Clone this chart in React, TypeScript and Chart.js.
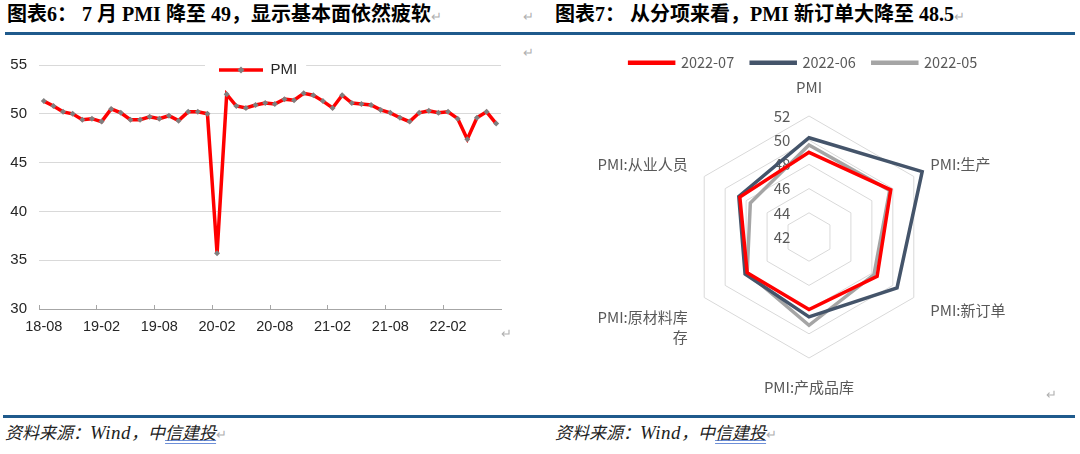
import React, { useEffect, useRef } from "react";
import { Chart, registerables } from "chart.js";

Chart.register(...registerables);

// ---------- data ----------
const months = [
  "18-08", "18-09", "18-10", "18-11", "18-12",
  "19-01", "19-02", "19-03", "19-04", "19-05", "19-06", "19-07", "19-08", "19-09", "19-10", "19-11", "19-12",
  "20-01", "20-02", "20-03", "20-04", "20-05", "20-06", "20-07", "20-08", "20-09", "20-10", "20-11", "20-12",
  "21-01", "21-02", "21-03", "21-04", "21-05", "21-06", "21-07", "21-08", "21-09", "21-10", "21-11", "21-12",
  "22-01", "22-02", "22-03", "22-04", "22-05", "22-06", "22-07",
];
const pmiValues = [
  51.3, 50.8, 50.2, 50.0, 49.4,
  49.5, 49.2, 50.5, 50.1, 49.4, 49.4, 49.7, 49.5, 49.8, 49.3, 50.2, 50.2,
  50.0, 35.7, 52.0, 50.8, 50.6, 50.9, 51.1, 51.0, 51.5, 51.4, 52.1, 51.9,
  51.3, 50.6, 51.9, 51.1, 51.0, 50.9, 50.4, 50.1, 49.6, 49.2, 50.1, 50.3,
  50.1, 50.2, 49.5, 47.4, 49.6, 50.2, 49.0,
];
const xTickLabels = ["18-08", "19-02", "19-08", "20-02", "20-08", "21-02", "21-08", "22-02"];
const yMin = 30;
const yMax = 55;
const yStep = 5;

const radarAxes: (string | string[])[] = [
  "PMI",
  "PMI:生产",
  "PMI:新订单",
  "PMI:产成品库",
  ["PMI:原材料库", "存"],
  "PMI:从业人员",
];
const series07 = [49.0, 49.8, 48.5, 48.0, 47.9, 48.6];
const series06 = [50.2, 52.8, 50.4, 48.6, 48.1, 48.7];
const series05 = [49.6, 49.7, 48.2, 49.3, 47.9, 47.6];
const radarTicks = [42, 44, 46, 48, 50, 52];

// ---------- styles ----------
const CJK = '"Noto Sans CJK SC"';
const ARIAL = '"Liberation Sans", Arial, sans-serif';

const placeLegend = {
  id: "placeLegend",
  afterLayout(chart: any, _args: any, opts: any) {
    const lg = chart.legend;
    if (!lg || !opts) return;
    if (opts.mode === "abs") {
      lg.left = opts.x;
      lg.right = opts.x + lg.width;
      lg.top = opts.y;
      lg.bottom = opts.y + lg.height;
    } else {
      lg.left += opts.dx || 0;
      lg.right += opts.dx || 0;
    }
  },
};

const legendBg = {
  id: "legendBg",
  beforeDatasetsDraw(chart: any) {
    const lg = chart.legend;
    const hb = lg && lg.legendHitBoxes && lg.legendHitBoxes[0];
    if (!hb) return;
    const ctx = chart.ctx;
    ctx.save();
    ctx.fillStyle = "#ffffff";
    ctx.fillRect(hb.left - 14, hb.top - 5, hb.width + 23, hb.height + 10);
    ctx.restore();
    lg.draw();
  },
};

const radarTickLabels = {
  id: "radarTickLabels",
  beforeDatasetsDraw(chart: any, _args: any, opts: any) {
    const s = chart.scales.r;
    if (!s) return;
    const ctx = chart.ctx;
    ctx.save();
    ctx.font = `15px ${CJK}`;
    ctx.fillStyle = "#595959";
    ctx.textAlign = "center";
    ctx.textBaseline = "middle";
    radarTicks.forEach((v) => {
      const d = s.getDistanceFromCenterForValue(v);
      ctx.fillText(String(v), s.xCenter + (opts?.dx || 0), s.yCenter - d);
    });
    ctx.restore();
  },
};

function makeLegendMarker() {
  const c = document.createElement("canvas");
  c.width = 44;
  c.height = 10;
  const g = c.getContext("2d")!;
  g.strokeStyle = "#ff0000";
  g.lineWidth = 3.5;
  g.beginPath();
  g.moveTo(0, 5);
  g.lineTo(44, 5);
  g.stroke();
  g.fillStyle = "#7f7f7f";
  g.beginPath();
  g.moveTo(22, 1.5);
  g.lineTo(25.5, 5);
  g.lineTo(22, 8.5);
  g.lineTo(18.5, 5);
  g.closePath();
  g.fill();
  return c;
}

function LineChart() {
  const ref = useRef<HTMLCanvasElement>(null);
  useEffect(() => {
    if (!ref.current) return;
    const marker = makeLegendMarker();
    const tickFont = { family: ARIAL, size: 14.5 };
    const chart = new Chart(ref.current, {
      type: "line",
      data: {
        labels: months,
        datasets: [
          {
            label: "PMI",
            data: pmiValues,
            borderColor: "#ff0000",
            backgroundColor: "#ff0000",
            borderWidth: 3.5,
            pointStyle: "rectRot",
            pointRadius: 3,
            pointBackgroundColor: "#7f7f7f",
            pointBorderColor: "#7f7f7f",
            pointBorderWidth: 0,
            tension: 0,
          },
        ],
      },
      options: {
        responsive: false,
        maintainAspectRatio: false,
        animation: false,
        layout: { padding: { left: 0, top: 25, right: 19, bottom: 0 } },
        plugins: {
          legend: {
            position: "chartArea" as any,
            align: "start",
            labels: {
              usePointStyle: true,
              pointStyle: marker as any,
              pointStyleWidth: 44,
              padding: 0,
              font: { family: ARIAL, size: 15 },
              color: "#262626",
            },
          },
          tooltip: { enabled: false },
          placeLegend: { mode: "abs", x: 219, y: 22.5 },
        } as any,
        scales: {
          x: {
            type: "category",
            offset: true,
            grid: {
              offset: true,
              drawOnChartArea: false,
              drawTicks: true,
              tickLength: -4,
              tickWidth: 1,
              tickColor: (c: any) => (c.index % 6 === 0 ? "#a6a6a6" : "rgba(0,0,0,0)"),
            },
            border: { color: "#a6a6a6", width: 1 },
            ticks: {
              autoSkip: false,
              maxRotation: 0,
              minRotation: 0,
              padding: 13,
              font: tickFont,
              color: "#262626",
              callback: (_v: any, i: number) => (xTickLabels.includes(months[i]) ? months[i] : ""),
            },
            afterFit: (s: any) => {
              s.height = 31;
            },
          },
          y: {
            min: yMin,
            max: yMax,
            ticks: { stepSize: yStep, padding: 12, font: { family: ARIAL, size: 15 }, color: "#262626" },
            grid: { color: "#d9d9d9", lineWidth: 1, drawTicks: false },
            border: { display: false },
            afterFit: (s: any) => {
              s.width = 39;
            },
          },
        },
      },
      plugins: [placeLegend, legendBg],
    });
    return () => chart.destroy();
  }, []);
  return (
    <canvas
      ref={ref}
      width={520}
      height={300}
      style={{ position: "absolute", left: 0, top: 40, width: 520, height: 300 }}
    />
  );
}

function RadarChart() {
  const ref = useRef<HTMLCanvasElement>(null);
  useEffect(() => {
    if (!ref.current) return;
    const common = { backgroundColor: "rgba(0,0,0,0)", borderWidth: 3.5, pointRadius: 0, fill: false };
    const chart = new Chart(ref.current, {
      type: "radar",
      data: {
        labels: radarAxes as any,
        datasets: [
          { label: "2022-07", data: series07, borderColor: "#ff0000", ...common },
          { label: "2022-06", data: series06, borderColor: "#44546a", ...common },
          { label: "2022-05", data: series05, borderColor: "#a5a5a5", ...common },
        ],
      },
      options: {
        responsive: false,
        maintainAspectRatio: false,
        animation: false,
        layout: { padding: { left: 0, top: 8.5, right: 0, bottom: 0 } },
        plugins: {
          legend: {
            position: "top",
            maxHeight: 38.5,
            labels: {
              boxWidth: 44,
              boxHeight: 1,
              padding: 17,
              font: { family: CJK, size: 14.5 },
              color: "#595959",
            },
          },
          tooltip: { enabled: false },
          placeLegend: { mode: "shift", dx: -5.5 },
          radarTickLabels: { dx: -27 },
        } as any,
        scales: {
          r: {
            min: 42,
            max: 52,
            ticks: { stepSize: 2, display: false },
            grid: { color: "#d9d9d9", lineWidth: 1, circular: false },
            angleLines: { display: false },
            pointLabels: {
              font: (c: any) => ({
                family: CJK,
                size: 15,
                lineHeight: c.index === 1 || c.index === 2 || c.index === 5 ? 0.4 : 1.333,
              }),
              color: "#595959",
              padding: 19,
            },
          },
        },
      },
      plugins: [placeLegend, radarTickLabels],
    });
    return () => chart.destroy();
  }, []);
  return (
    <canvas
      ref={ref}
      width={500}
      height={367}
      style={{ position: "absolute", left: 559, top: 30, width: 500, height: 367 }}
    />
  );
}

const mark: React.CSSProperties = {
  color: "#b0b0b0",
  fontWeight: 400,
  fontStyle: "normal",
  fontSize: 13,
  fontFamily: CJK,
  letterSpacing: 0,
};

export default function App() {
  const titleStyle: React.CSSProperties = {
    position: "absolute",
    top: 2,
    fontFamily: `"Liberation Serif", ${CJK}`,
    fontWeight: 700,
    fontSize: 20,
    lineHeight: "24px",
    whiteSpace: "pre",
    color: "#000",
  };
  const footStyle: React.CSSProperties = {
    position: "absolute",
    top: 422,
    fontFamily: `"Liberation Serif", ${CJK}`,
    fontStyle: "italic",
    fontSize: 17,
    lineHeight: "22px",
    whiteSpace: "pre",
    color: "#222",
  };
  const ul: React.CSSProperties = {
    textDecoration: "underline",
    textDecorationColor: "#6d8fd8",
    textDecorationStyle: "double",
  };
  const wide: React.CSSProperties = { fontSize: 19, letterSpacing: 0.5 };
  return (
    <div
      style={{
        position: "absolute",
        left: 0,
        top: 0,
        width: 1080,
        height: 454,
        background: "#fff",
        overflow: "hidden",
      }}
    >
      <div style={{ ...titleStyle, left: 7 }}>
        图表6： 7 月 PMI 降至 49，显示基本面依然疲软<span style={mark}>↵</span>
      </div>
      <div style={{ ...mark, position: "absolute", left: 523, top: 6 }}>↵</div>
      <div style={{ ...titleStyle, left: 555 }}>
        图表7： 从分项来看，PMI 新订单大降至 48.5<span style={mark}>↵</span>
      </div>
      <div style={{ position: "absolute", left: 5, top: 32, width: 1070, height: 2.5, background: "#1f5a8c" }} />
      <div style={{ ...mark, position: "absolute", left: 523, top: 42 }}>↵</div>

      <LineChart />
      <div style={{ ...mark, position: "absolute", left: 501, top: 323 }}>↵</div>

      <RadarChart />
      <div style={{ ...mark, position: "absolute", left: 1046, top: 384 }}>↵</div>

      <div style={{ position: "absolute", left: 3, top: 415, width: 1072, height: 2.5, background: "#1f5a8c" }} />
      <div style={{ ...footStyle, left: 5 }}>
        资料来源：<span style={wide}>Wind</span>，中<span style={ul}>信建投</span>
        <span style={mark}>↵</span>
      </div>
      <div style={{ ...footStyle, left: 555 }}>
        资料来源：<span style={wide}>Wind</span>，中<span style={ul}>信建投</span>
        <span style={mark}>↵</span>
      </div>
    </div>
  );
}
